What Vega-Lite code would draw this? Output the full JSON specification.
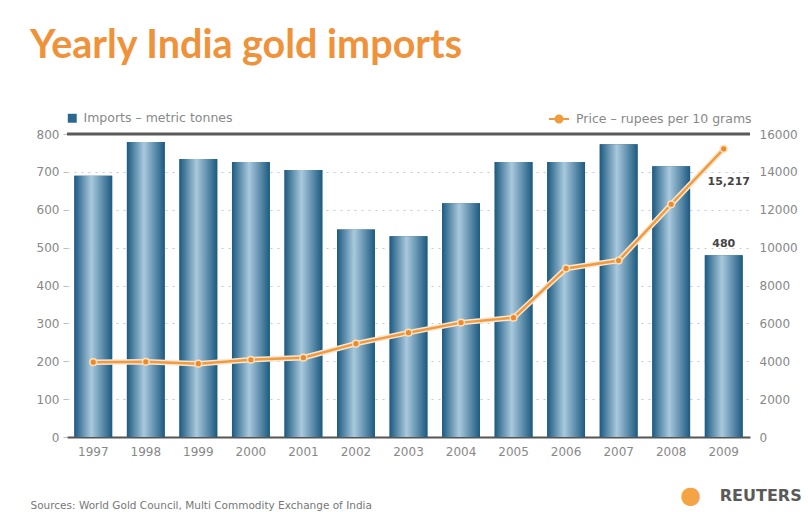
{
  "$schema": "https://vega.github.io/schema/vega-lite/v6.json",
  "width": 683,
  "height": 303,
  "autosize": {"type": "none"},
  "padding": {"left": 67, "top": 134, "right": 58, "bottom": 75},
  "background": "white",
  "config": {"view": {"stroke": null}, "font": "DejaVu Sans"},
  "title": {
    "text": "Yearly India gold imports",
    "anchor": "start",
    "frame": "group",
    "dx": -37,
    "offset": 11,
    "baseline": "alphabetic",
    "font": "Lato",
    "fontSize": 39.5,
    "fontWeight": "bold",
    "color": "#F0923A"
  },
  "datasets": {
    "d": [
      {"year": "1997", "imports": 690, "price": 3950},
      {"year": "1998", "imports": 779, "price": 3970},
      {"year": "1999", "imports": 734, "price": 3870},
      {"year": "2000", "imports": 726, "price": 4080},
      {"year": "2001", "imports": 705, "price": 4190},
      {"year": "2002", "imports": 548, "price": 4930},
      {"year": "2003", "imports": 530, "price": 5510},
      {"year": "2004", "imports": 617, "price": 6040},
      {"year": "2005", "imports": 726, "price": 6300},
      {"year": "2006", "imports": 726, "price": 8900},
      {"year": "2007", "imports": 773, "price": 9320},
      {"year": "2008", "imports": 715, "price": 12290},
      {"year": "2009", "imports": 480, "price": 15217}
    ]
  },
  "layer": [
    {
      "encoding": {
        "y": {
          "field": "imports", "type": "quantitative",
          "scale": {"domain": [0, 800], "nice": false},
          "axis": {
            "values": [0, 100, 200, 300, 400, 500, 600, 700, 800],
            "title": null, "grid": true, "gridColor": "#c8c8c8", "gridDash": [2, 5],
            "domain": false, "tickColor": "#bbbbbb", "tickSize": 4,
            "labelColor": "#888888", "labelFontSize": 12, "labelPadding": 4
          }
        }
      },
      "layer": [
        {
          "data": {"values": [{"imports": 800}]},
          "mark": {"type": "rule", "color": "#5a5a5a", "strokeWidth": 3}
        },
        {
          "data": {"name": "d"},
          "mark": {"type": "bar"},
          "encoding": {
            "x": {
              "field": "year", "type": "ordinal",
              "scale": {"paddingInner": 0.28, "paddingOuter": 0.14},
              "axis": {
                "title": "Sources: World Gold Council, Multi Commodity Exchange of India",
                "titleAnchor": "start", "titleAlign": "left", "titleX": -37, "titleY": 68,
                "titleFontSize": 10.5, "titleFontWeight": "normal", "titleColor": "#777777",
                "titleBaseline": "middle",
                "labelAngle": 0, "labelColor": "#888888", "labelFontSize": 12, "labelPadding": 9,
                "ticks": false, "domainColor": "#555555", "domainWidth": 2, "grid": false
              }
            },
            "fill": {
              "datum": "Imports – metric tonnes",
              "scale": {"range": ["#2a6890"]},
              "legend": {
                "orient": "none", "legendX": -1, "legendY": -22, "title": null,
                "symbolType": "square", "symbolSize": 80, "labelLimit": 300,
                "labelColor": "#888888", "labelFontSize": 12.5, "labelOffset": 5
              }
            }
          }
        },
        {
          "data": {"name": "d"},
          "mark": {
            "type": "bar",
            "color": {
              "gradient": "linear", "x1": 0, "y1": 0, "x2": 1, "y2": 0,
              "stops": [
                {"offset": 0, "color": "#1c5a80"},
                {"offset": 0.45, "color": "#a9c9dd"},
                {"offset": 1, "color": "#1c5a80"}
              ]
            }
          },
          "encoding": {
            "x": {"field": "year", "type": "ordinal"}
          }
        },
        {
          "data": {"values": [{"year": "2009", "imports": 480, "label": "480"}]},
          "mark": {"type": "text", "dy": -11, "fontWeight": "bold", "fontSize": 11, "color": "#444444"},
          "encoding": {
            "x": {"field": "year", "type": "ordinal"},
            "text": {"field": "label"}
          }
        },
        {
          "data": {"values": [{"year": "2009", "imports": -155, "label": "REUTERS"}]},
          "mark": {"type": "text", "dx": 37, "fontWeight": "bold", "fontSize": 16, "font": "DejaVu Sans", "color": "#5a5a5a", "baseline": "middle"},
          "encoding": {
            "x": {"field": "year", "type": "ordinal"},
            "text": {"field": "label"}
          }
        },
        {
          "data": {"values": [{"year": "2009", "imports": -155, "label": "●"}]},
          "mark": {"type": "text", "dx": -33, "fontSize": 24, "font": "DejaVu Sans", "color": "#F5A445", "baseline": "middle"},
          "encoding": {
            "x": {"field": "year", "type": "ordinal"},
            "text": {"field": "label"}
          }
        }
      ]
    },
    {
      "data": {"name": "d"},
      "encoding": {
        "x": {"field": "year", "type": "ordinal"},
        "y": {
          "field": "price", "type": "quantitative",
          "scale": {"domain": [0, 16000], "nice": false},
          "axis": {
            "orient": "right",
            "values": [0, 2000, 4000, 6000, 8000, 10000, 12000, 14000, 16000],
            "format": "d", "title": null, "grid": false, "domain": false, "ticks": false,
            "labelPadding": 9, "labelColor": "#888888", "labelFontSize": 12
          }
        }
      },
      "layer": [
        {
          "mark": {"type": "line", "color": "#f6e6d2", "strokeWidth": 5.5}
        },
        {
          "mark": {"type": "line", "strokeWidth": 2.5},
          "encoding": {
            "stroke": {
              "datum": "Price – rupees per 10 grams",
              "scale": {"range": ["#F39A3C"]},
              "legend": {
                "orient": "none", "legendX": 481, "legendY": -26, "title": null,
                "symbolType": "M-1,0L-0.35,0M0.35,0L1,0M0.35,0A0.35,0.35,0,1,1,-0.35,0A0.35,0.35,0,1,1,0.35,0",
                "symbolSize": 400, "symbolStrokeWidth": 2, "symbolFillColor": "#F39A3C", "labelLimit": 300,
                "labelColor": "#888888", "labelFontSize": 12.5, "labelOffset": 6
              }
            }
          }
        },
        {
          "mark": {"type": "circle", "color": "#EE8A2A", "size": 45, "stroke": "#fbe0bd", "strokeWidth": 1.5, "opacity": 1}
        },
        {
          "data": {"values": [{"year": "2009", "price": 15217, "label": "15,217"}]},
          "mark": {"type": "text", "dx": 5, "dy": 33, "fontWeight": "bold", "fontSize": 11, "color": "#444444", "baseline": "middle"},
          "encoding": {
            "text": {"field": "label"}
          }
        }
      ]
    }
  ],
  "resolve": {"scale": {"y": "independent", "fill": "independent", "stroke": "independent"}}
}
